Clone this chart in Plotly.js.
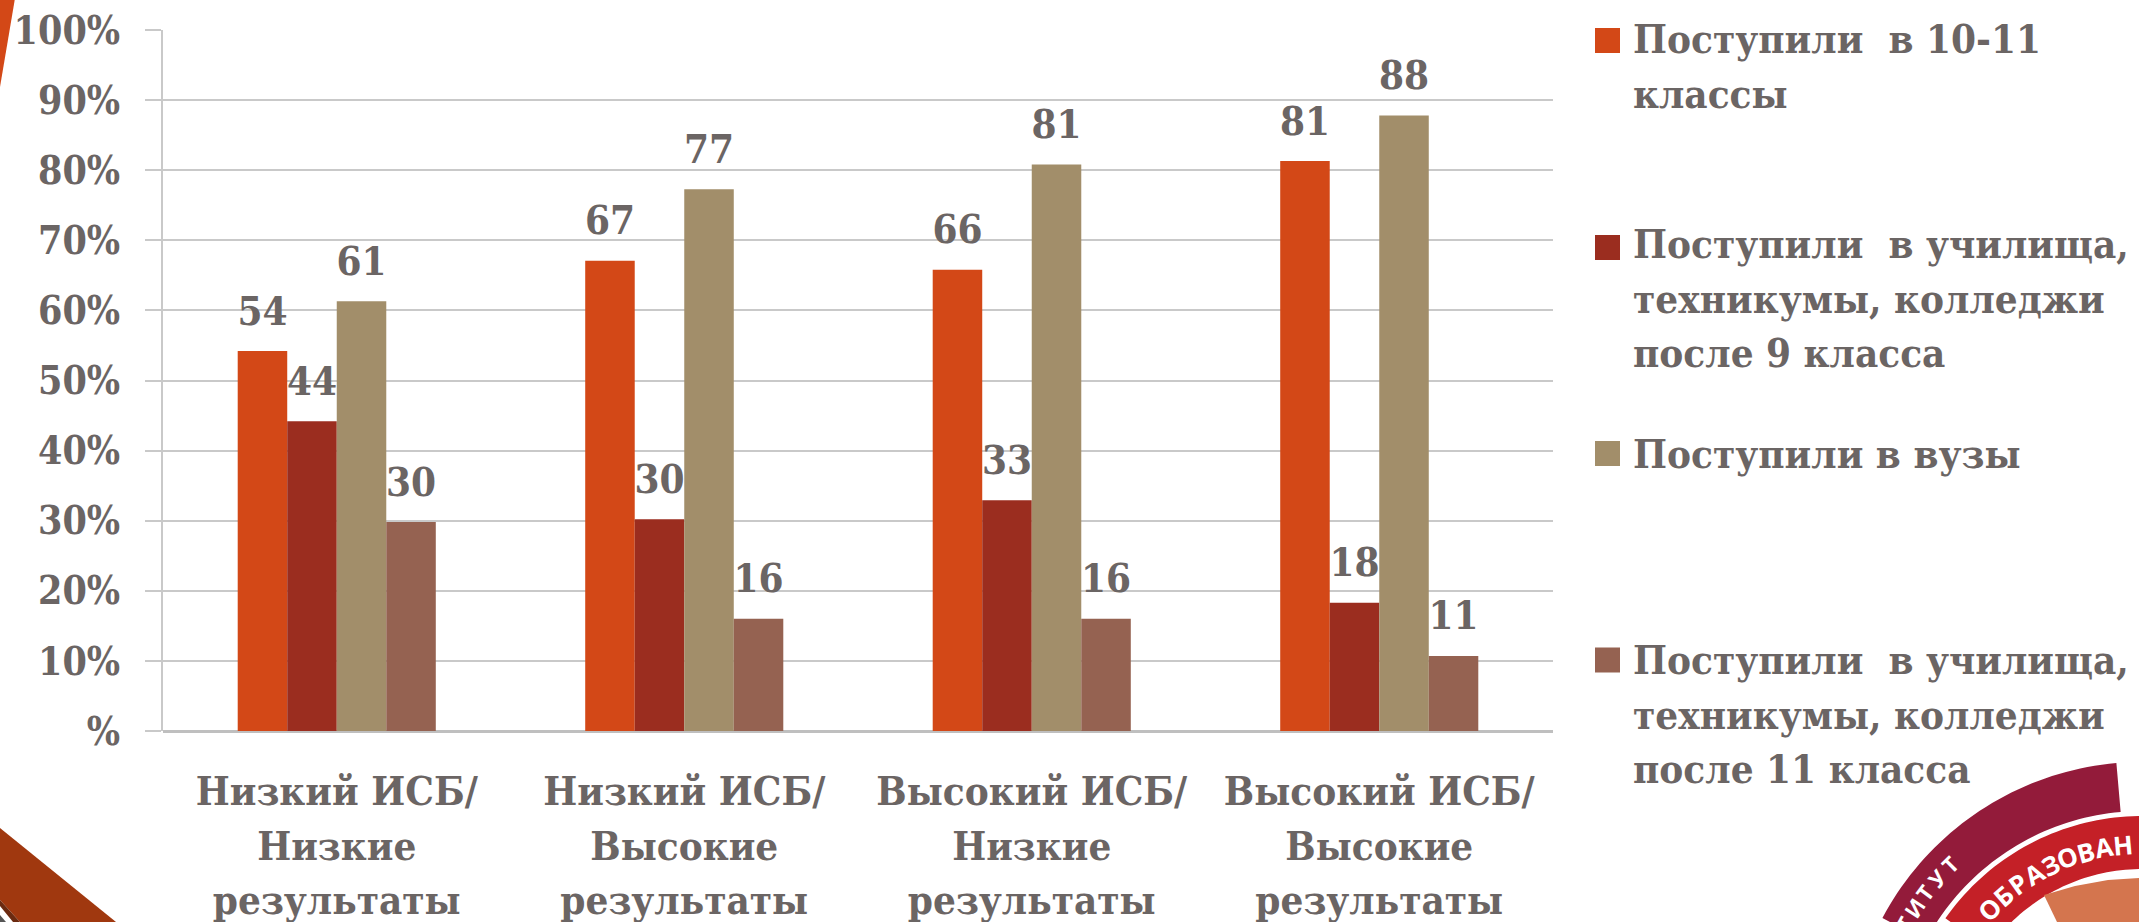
<!DOCTYPE html>
<html><head><meta charset="utf-8">
<script src="https://cdn.plot.ly/plotly-3.0.1.min.js"></script>
<style>html,body{margin:0;padding:0;background:#fff;overflow:hidden}#c{width:2139px;height:922px}</style>
</head><body><div id="c"></div>
<script>
const categories = ["Низкий ИСБ/<br>Низкие<br>результаты","Низкий ИСБ/<br>Высокие<br>результаты","Высокий ИСБ/<br>Низкие<br>результаты","Высокий ИСБ/<br>Высокие<br>результаты"];
const seriesNames = ["Поступили\u00a0 в 10-11<br>классы","Поступили\u00a0 в училища,<br>техникумы, колледжи<br>после 9 класса","Поступили в вузы","Поступили\u00a0 в училища,<br>техникумы, колледжи<br>после 11 класса"];
const school = [54.2,67.1,65.8,81.3];
const college9 = [44.2,30.2,32.9,18.3];
const university = [61.3,77.3,80.8,87.8];
const college11 = [29.8,16.0,16.0,10.7];
const schoolLabels = ["54","67","66","81"];
const college9Labels = ["44","30","33","18"];
const universityLabels = ["61","77","81","88"];
const college11Labels = ["30","16","16","11"];
const colors = ["#D34817","#9B2D1F","#A28E6A","#956251"];
const yTickVals = [0,10,20,30,40,50,60,70,80,90,100];
const yTickText = ["%","10%","20%","30%","40%","50%","60%","70%","80%","90%","100%"];

const FONT = '"DejaVu Serif Condensed", "DejaVu Serif", serif', INK = '#6B6564', GRID = '#C9C9C9', FS = 40, LH = 42;
const L=163, R=1553, T=30, B=731, W=R-L, H=B-T;
const X = p => (p-L)/W, Y = p => 1-(p-T)/H;
const tight = s => s.split('<br>').map(l=>'<span style="font-size:'+FS+'px">'+l+'</span>').join('<br>');
const raised = s => tight(s)+'<br>\u00a0';

const vals=[school,college9,university,college11], labs=[schoolLabels,college9Labels,universityLabels,college11Labels];
const data = vals.map((v,i)=>({type:'bar',x:categories,y:v,name:seriesNames[i],text:labs[i].map(raised),textposition:'outside',
  textangle:0,cliponaxis:false,constraintext:'none',hoverinfo:'skip',
  textfont:{family:FONT,size:15,color:INK,weight:'bold'},
  marker:{color:colors[i]}}));

const poly=(pts,fill)=>({type:'path',xref:'paper',yref:'paper',layer:'above',line:{width:0},fillcolor:fill,
  path:'M'+pts.map(p=>X(p[0]).toFixed(5)+','+Y(p[1]).toFixed(5)).join('L')+'Z'});
const CX=2142,CY=1056;
const pol=(r,a)=>[CX+r*Math.sin(a*Math.PI/180),CY-r*Math.cos(a*Math.PI/180)];
function ring(r0,r1,a0,a1){const o=[],n=40;for(let i=0;i<=n;i++)o.push(pol(r1,a0+(a1-a0)*i/n));
  for(let i=n;i>=0;i--)o.push(pol(r0,a0+(a1-a0)*i/n));return o;}

const swY=[40.5,247.5,453.5,660];
const shapes=[
  poly([[0,0],[14.7,0],[0,87]],'#D34817'),
  poly([[0,828],[116,922],[20,922],[0,900]],'#A0380F'),
  poly([[0,900],[20,922],[13,922],[0,906]],'#6B2A10'),
  poly([[0,915],[6,922],[0,922]],'#555555'),
  poly(ring(245,294,-62,-5),'#931B3A'),
  poly(ring(187,240,-55,2),'#C42027'),
  poly([[2044,895],[2075,886],[2108,880],[2139,878],[2139,922],[2057,922]],'#D4754E'),
  ...colors.map((c,i)=>poly([[1595,swY[i]-12.5],[1620,swY[i]-12.5],[1620,swY[i]+12.5],[1595,swY[i]+12.5]],c))
];

const legTop=[13,218,428,634];
const annotations=seriesNames.map((s,i)=>({xref:'paper',yref:'paper',x:X(1631),y:Y(legTop[i]),xanchor:'left',yanchor:'top',align:'left',
  showarrow:false,text:'<b>'+tight(s)+'</b>',font:{family:FONT,size:LH,color:INK}}));
const ringText=(s,r,a0,da,size)=>[...s].forEach((ch,i)=>{const a=a0+da*i,p=pol(r,a);
  annotations.push({xref:'paper',yref:'paper',x:X(p[0]),y:Y(p[1]),xanchor:'center',yanchor:'middle',showarrow:false,
   textangle:a,text:'<b>'+ch+'</b>',font:{family:'"Open Sans",sans-serif',size:size,color:'#fff'}});});
ringText('ОБРАЗОВАН',212,-46,5.1,26);
ringText('ТИТУТ',272,-61,4,22);

const layout={width:2139,height:922,paper_bgcolor:'#fff',plot_bgcolor:'#fff',showlegend:false,
  margin:{l:L,r:2139-R,t:T,b:922-B,pad:0},barmode:'group',bargap:0.43,bargroupgap:0,
  font:{family:FONT,color:INK},
  xaxis:{type:'category',categoryorder:'array',categoryarray:categories,showgrid:false,zeroline:false,showline:false,ticks:'',
    tickmode:'array',tickvals:categories,ticktext:categories.map(tight),
    tickfont:{family:FONT,size:LH,color:INK,weight:'bold'},tickangle:0,ticklabelstandoff:31},
  yaxis:{range:[0,100],tickmode:'array',tickvals:yTickVals,ticktext:yTickText,showgrid:true,gridcolor:GRID,gridwidth:2,
    zeroline:true,zerolinecolor:'#BFBFBF',zerolinewidth:3,showline:true,linecolor:GRID,linewidth:2,
    ticks:'outside',ticklen:16,tickwidth:2,tickcolor:GRID,
    tickfont:{family:FONT,size:39,color:INK,weight:'bold'},ticklabelstandoff:17},
  shapes,annotations};
Plotly.newPlot('c',data,layout,{displayModeBar:false,staticPlot:true});
</script></body></html>
